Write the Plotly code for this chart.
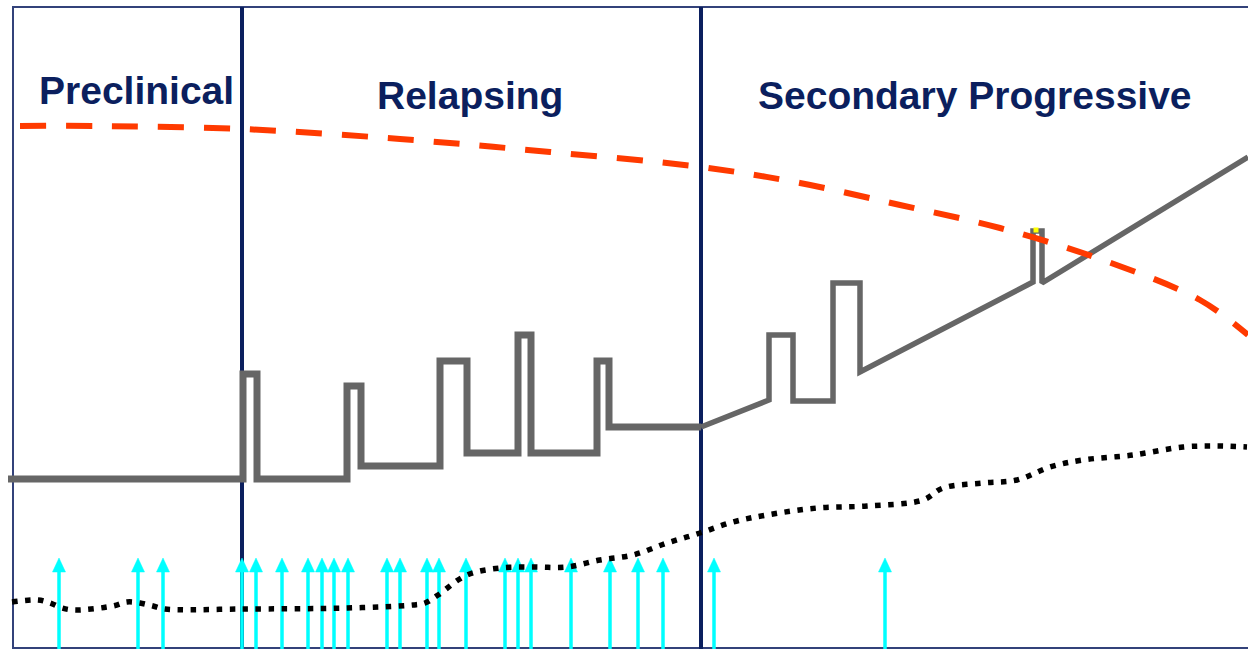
import plotly.graph_objects as go

# ---- data (time units / level units) ----
phase_names = ["Preclinical", "Relapsing", "Secondary Progressive"]
phase_label_x = [136, 470, 975]
phase_label_y = [90, 95, 95]
phase_bounds = [242, 701]

# disability (grey step line) – relapsing phase
disab_x1 = [8, 243, 243, 257, 257, 347, 347, 361, 361, 440, 440, 467, 467, 518, 518, 531, 531,
            597, 597, 609, 609, 701]
disab_y1 = [479, 479, 374, 374, 479, 479, 386, 386, 466, 466, 361, 361, 453, 453, 335, 335, 453,
            453, 361, 361, 427, 427]
# disability – progressive phase
disab_x2 = [701, 769, 769, 793, 793, 833, 833, 860, 860, 1033, 1033, 1042, 1042, 1248]
disab_y2 = [427, 400, 335, 335, 401, 401, 283, 283, 372, 282, 231, 231, 283, 157]

# reserve / threshold (red dashed)
reserve_x = [20, 100, 242, 400, 550, 701, 800, 900, 1000, 1100, 1200, 1248]
reserve_y = [126, 126, 129, 139, 152, 167, 183, 205, 228, 259, 300, 335]

# brain atrophy (black dotted)
atrophy_x = [12, 38, 50, 62, 75, 113, 127, 140, 153, 165, 242, 347, 413, 425, 438, 467, 500, 533,
             567, 600, 633, 667, 700, 733, 767, 817, 867, 923, 943, 983, 1017, 1050, 1083, 1133,
             1183, 1217, 1247]
atrophy_y = [602, 600, 603, 608, 610, 606, 602, 603, 606, 609, 609, 608, 605, 603, 595, 575, 568,
             567, 567, 560, 555, 543, 533, 522, 515, 508, 506, 500, 488, 483, 480, 467, 460, 455,
             447, 446, 447]

# MRI lesion events (cyan arrows)
lesion_x = [59, 138, 163, 242, 256, 282, 308, 322, 334, 348, 387, 400, 427, 439, 466, 505, 518,
            531, 571, 610, 638, 663, 714, 885]
lesion_base = 649
lesion_tip = 558

# small yellow highlight
hl_x = [1036]
hl_y = [230]

NAVY = "#0B1F5E"
CYAN = "#00FFFF"
HEAD_W, HEAD_H = 6.5, 14

fig = go.Figure()

# arrows: shafts and heads
sx, sy, hx, hy = [], [], [], []
for x in lesion_x:
    sx += [x, x, None]
    sy += [lesion_base, lesion_tip + HEAD_H - 2, None]
    hx += [x - HEAD_W, x, x + HEAD_W, x - HEAD_W, None]
    hy += [lesion_tip + HEAD_H, lesion_tip, lesion_tip + HEAD_H, lesion_tip + HEAD_H, None]
fig.add_trace(go.Scatter(x=sx, y=sy, mode="lines", line=dict(color=CYAN, width=3.5),
                         hoverinfo="skip", showlegend=False))
fig.add_trace(go.Scatter(x=hx, y=hy, mode="lines", fill="toself", fillcolor=CYAN,
                         line=dict(color=CYAN, width=0.5),
                         hoverinfo="skip", showlegend=False))

# disability
fig.add_trace(go.Scatter(x=disab_x1, y=disab_y1, mode="lines",
                         line=dict(color="#666666", width=7), showlegend=False))
fig.add_trace(go.Scatter(x=disab_x2, y=disab_y2, mode="lines",
                         line=dict(color="#666666", width=5.5), showlegend=False))

# yellow highlight
fig.add_trace(go.Scatter(x=hl_x, y=hl_y, mode="markers",
                         marker=dict(symbol="square", size=5, color="#FFFF00"),
                         showlegend=False))

# reserve
fig.add_trace(go.Scatter(x=reserve_x, y=reserve_y, mode="lines",
                         line=dict(color="#FF3A00", width=6, dash="26px,20px", shape="spline"),
                         showlegend=False))

# atrophy
fig.add_trace(go.Scatter(x=atrophy_x, y=atrophy_y, mode="lines",
                         line=dict(color="#000000", width=5.5, dash="5.5px,7.5px", shape="spline"),
                         showlegend=False))

shapes = [dict(type="rect", xref="x", yref="y", x0=13, x1=1260, y0=7, y1=648,
               line=dict(color="#33427A", width=2), layer="below")]
for b in phase_bounds:
    shapes.append(dict(type="line", xref="x", yref="y", x0=b, x1=b, y0=7, y1=649,
                       line=dict(color=NAVY, width=4), layer="below"))

annotations = []
for name, x, y in zip(phase_names, phase_label_x, phase_label_y):
    annotations.append(dict(x=x, y=y, xref="x", yref="y", text="<b>%s</b>" % name,
                            showarrow=False, xanchor="center", yanchor="middle",
                            font=dict(family="Liberation Sans, Arial", size=39, color=NAVY)))

fig.update_layout(
    width=1248, height=649,
    margin=dict(l=0, r=0, t=0, b=0),
    paper_bgcolor="white", plot_bgcolor="white",
    xaxis=dict(range=[0, 1248], visible=False, fixedrange=True),
    yaxis=dict(range=[649, 0], visible=False, fixedrange=True),
    shapes=shapes, annotations=annotations,
)

fig.write_html("out.html", config={"displayModeBar": False},
               post_script="document.body.style.margin='0';document.body.style.overflow='hidden';")
